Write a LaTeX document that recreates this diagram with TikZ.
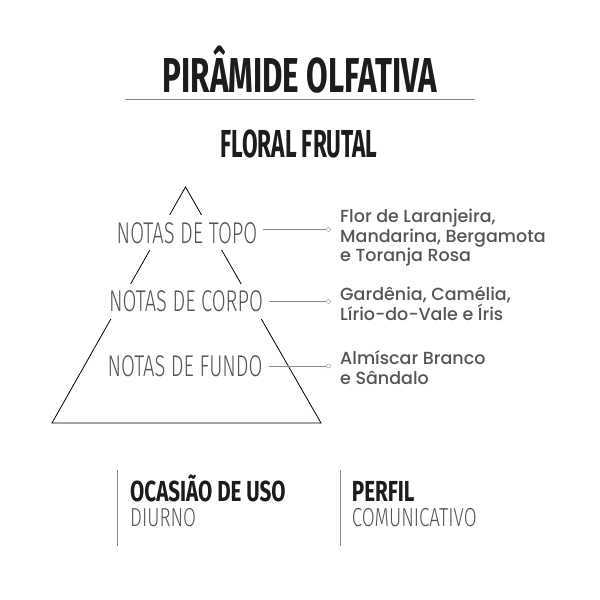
\documentclass[tikz,border=0pt]{standalone}
\usepackage{fontspec}
\setmainfont{Poppins Medium}
\newfontfamily\titlefont[FakeStretch=0.64]{Fira Sans}
\newfontfamily\subfont[FakeStretch=0.58]{Fira Sans}
\newfontfamily\labelfont[FakeStretch=0.71]{Fira Sans}
\newfontfamily\thinfont[FakeStretch=0.67]{Fira Sans Light}
\newfontfamily\footthin[FakeStretch=0.72]{Fira Sans Light}
\definecolor{inkdark}{HTML}{1C1C1C}
\definecolor{inkgray}{HTML}{555555}
\definecolor{rulegray}{HTML}{8A8A8A}
\tikzset{
  heading/.style = {inner sep = 0pt, anchor = base, text = inkdark},
  layer/.style = {anchor = base, fill = white, inner xsep = 6pt, inner ysep = 7pt,
                  text = inkgray, font = \thinfont\fontsize{30}{30}\selectfont},
  notes/.style = {anchor = base west, inner sep = 0pt, align = left, text = inkgray,
                  font = \fontsize{17.5}{19.5}\selectfont},
  dot/.style = {circle, draw = rulegray, fill = white, inner sep = 0pt, minimum size = 4pt},
  conn/.style = {draw = rulegray, line width = .6pt}
}
\begin{document}
\begin{tikzpicture}[x = 1pt, y = -1pt]
  \useasboundingbox[fill = white] (0, 0) rectangle (600, 600);
  % titulo
  \node[heading, font = \titlefont\bfseries\fontsize{49}{49}\selectfont] (titulo) at (300, 92) {PIRÂMIDE OLFATIVA};
  \draw[rulegray, line width = .8pt] (125, 99)--(475, 99);
  \node[heading, font = \subfont\bfseries\fontsize{39}{39}\selectfont] (familia) at (299, 157) {FLORAL FRUTAL};
  % piramide
  \draw[black, line width = .8pt] (185.5, 187)--(321, 423)--(52, 423)--cycle;
  \node[layer] (topo) at (187, 243) {NOTAS DE TOPO};
  \node[layer] (corpo) at (186, 311.7) {NOTAS DE CORPO};
  \node[layer] (fundo) at (185, 376.7) {NOTAS DE FUNDO};
  % ligacoes
  \node[dot] (topodot) at (328.5, 229.5) {};
  \node[dot] (corpodot) at (328.5, 301.5) {};
  \node[dot] (fundodot) at (328.5, 366) {};
  \foreach \nivel in {topo, corpo, fundo}
    \draw[conn] (\nivel.east |- \nivel dot) -- (\nivel dot.west);
  % base = ultima linha
  \node[notes] (topotxt) at (340, 261.7) {Flor de Laranjeira,\\Mandarina, Bergamota\\e Toranja Rosa};
  \node[notes] (corpotxt) at (340, 320) {Gardênia, Camélia,\\Lírio-do-Vale e Íris};
  \node[notes] (fundotxt) at (340, 384) {Almíscar Branco\\e Sândalo};
  % rodape
  \draw[rulegray, line width = .8pt] (117, 470)--(117, 546);
  \draw[rulegray, line width = .8pt] (340, 470)--(340, 546);
  \node[heading, anchor = base west, font = \labelfont\bfseries\fontsize{29}{29}\selectfont] (ocasiao) at (130, 501.7) {OCASIÃO DE USO};
  \node[heading, anchor = base west, text = inkgray, font = \footthin\fontsize{26}{26}\selectfont] (diurno) at (130, 526.7) {DIURNO};
  \node[heading, anchor = base west, font = \labelfont\bfseries\fontsize{29}{29}\selectfont] (perfil) at (351.7, 501.7) {PERFIL};
  \node[heading, anchor = base west, text = inkgray, font = \footthin\fontsize{26}{26}\selectfont] (comunic) at (351.7, 526.7) {COMUNICATIVO};
\end{tikzpicture}
\end{document}
